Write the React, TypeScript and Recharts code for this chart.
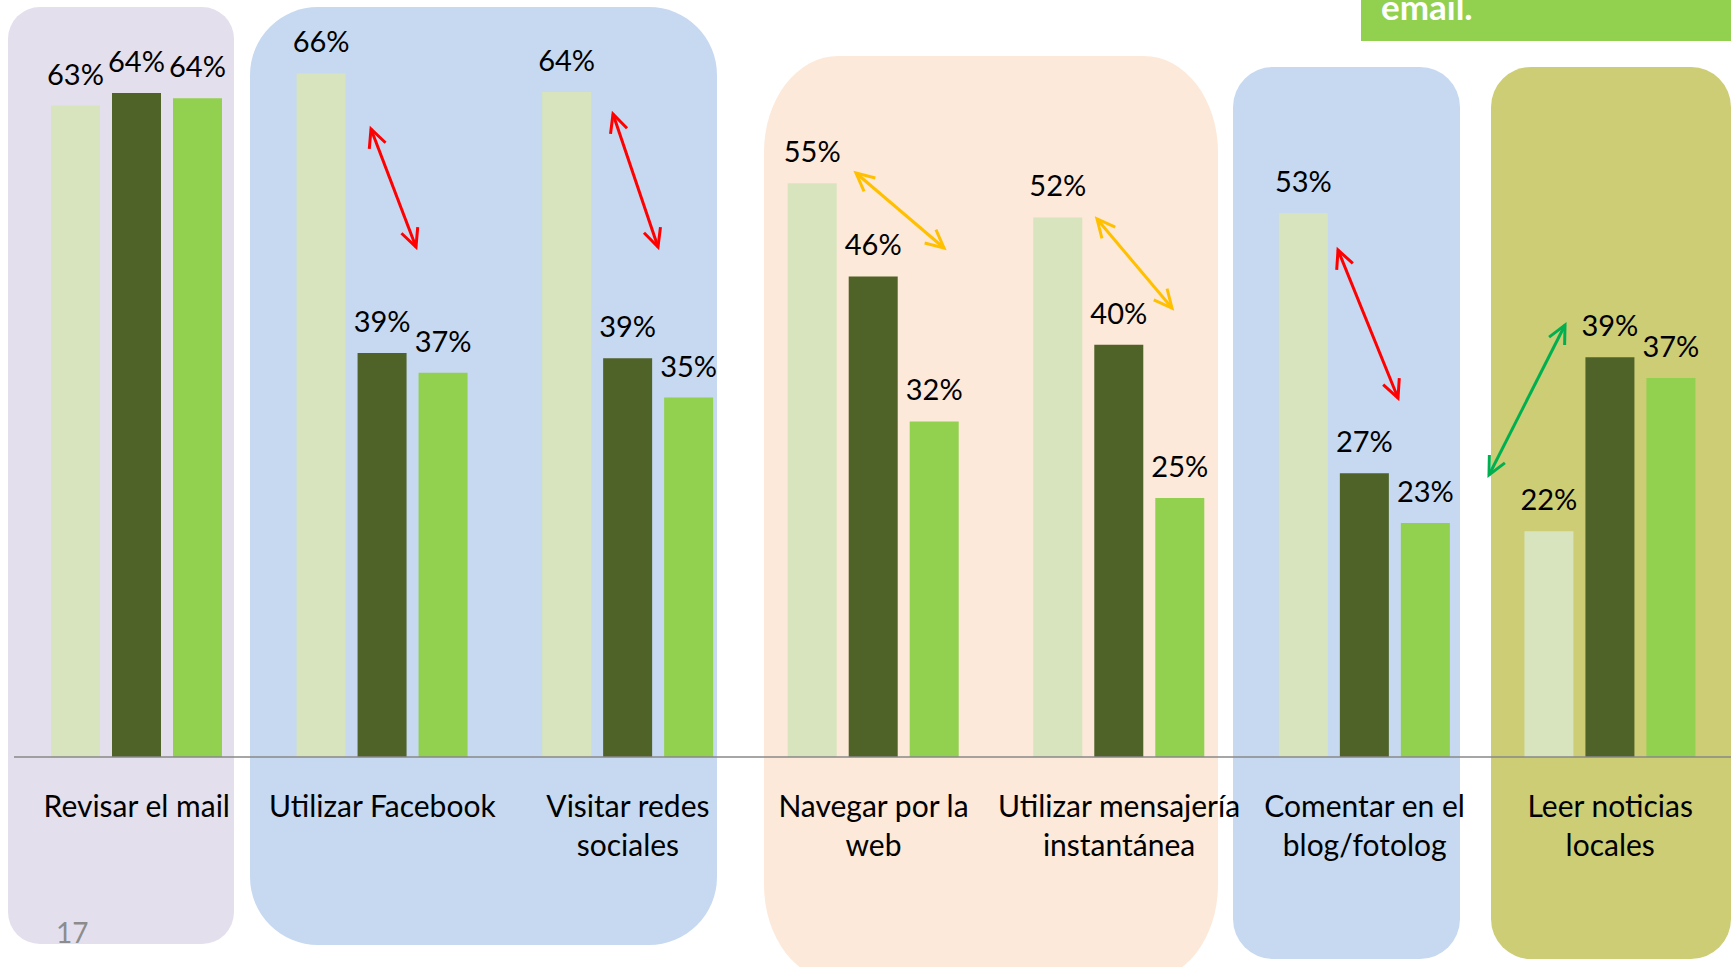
import { BarChart, Bar, XAxis, YAxis, LabelList } from 'recharts'

const categories = [
  'Revisar el mail',
  'Utilizar Facebook',
  'Visitar redes\nsociales',
  'Navegar por la\nweb',
  'Utilizar mensajería\ninstantánea',
  'Comentar en el\nblog/fotolog',
  'Leer noticias\nlocales',
]

const serie1 = [62.9, 66.0, 64.2, 55.4, 52.1, 52.5, 21.8]
const serie2 = [64.1, 39.0, 38.5, 46.4, 39.8, 27.4, 38.6]
const serie3 = [63.6, 37.1, 34.7, 32.4, 25.0, 22.6, 36.6]

const data = categories.map((name, i) => ({
  name,
  s1: serie1[i],
  s2: serie2[i],
  s3: serie3[i],
}))

const FONT = 'Lato, "Open Sans", sans-serif'

const panels = [
  { left: 8, top: 7, width: 226, height: 937, radius: '32px', color: '#E4DFEC' },
  { left: 250, top: 7, width: 467, height: 938, radius: '68px', color: '#C6D9F1' },
  { left: 764, top: 56, width: 454, height: 925, radius: '74px / 96px', color: '#FDE9D9' },
  { left: 1233, top: 67, width: 227, height: 892, radius: '40px', color: '#C6D9F1' },
  { left: 1491, top: 67, width: 240, height: 892, radius: '40px', color: '#CDCD76' },
]

// annotation arrows (double headed)
const arrows = [
  { x1: 371, y1: 129, x2: 416, y2: 247, color: '#FF0000' },
  { x1: 613, y1: 114, x2: 658, y2: 247, color: '#FF0000' },
  { x1: 856, y1: 173, x2: 944, y2: 248, color: '#FFC000' },
  { x1: 1097, y1: 219, x2: 1172, y2: 308, color: '#FFC000' },
  { x1: 1338, y1: 250, x2: 1398, y2: 398, color: '#FF0000' },
  { x1: 1565, y1: 325, x2: 1489, y2: 475, color: '#00B050' },
]

function head(x: number, y: number, ang: number) {
  const len = 20
  const spread = 0.45
  const a1 = ang + Math.PI - spread
  const a2 = ang + Math.PI + spread
  return `M${x + len * Math.cos(a1)},${y + len * Math.sin(a1)} L${x},${y} L${x + len * Math.cos(a2)},${y + len * Math.sin(a2)}`
}

function Arrow({ x1, y1, x2, y2, color }: { x1: number; y1: number; x2: number; y2: number; color: string }) {
  const ang = Math.atan2(y2 - y1, x2 - x1)
  return (
    <g stroke={color} strokeWidth={3} fill="none" strokeLinejoin="miter">
      <line x1={x1} y1={y1} x2={x2} y2={y2} />
      <path d={head(x2, y2, ang)} />
      <path d={head(x1, y1, ang + Math.PI)} />
    </g>
  )
}

function CategoryTick({ x, y, payload }: any) {
  const lines = String(payload.value).split('\n')
  return (
    <text x={x} y={y} textAnchor="middle" fontSize={30} fill="#000" fontFamily={FONT}>
      {lines.map((l, i) => (
        <tspan key={i} x={x} dy={i === 0 ? 60 : 39}>{l}</tspan>
      ))}
    </text>
  )
}

const fmt = (v: any) => `${Math.round(Number(v))}%`
const labelStyle = { fontSize: 29, fill: '#000', fontFamily: FONT }

export default function App() {
  return (
    <div style={{ position: 'absolute', left: 0, top: 0, width: 1731, height: 967, overflow: 'hidden', background: '#fff', fontFamily: FONT }}>
      {panels.map((p, i) => (
        <div
          key={i}
          style={{ position: 'absolute', left: p.left, top: p.top, width: p.width, height: p.height, borderRadius: p.radius, background: p.color }}
        />
      ))}
      <div style={{ position: 'absolute', left: 1361, top: 0, width: 370, height: 41, background: '#92D050' }} />

      <div style={{ position: 'absolute', left: 0, top: 0 }}>
        <BarChart width={1733} height={967} data={data} margin={{ top: 32, right: 0, bottom: 0, left: 14 }} barSize={49} barGap={12}>
          <XAxis
            dataKey="name"
            height={210}
            tickSize={0}
            tickMargin={0}
            tickLine={false}
            axisLine={{ stroke: '#898989', strokeWidth: 1.5 }}
            tick={<CategoryTick />}
            interval={0}
          />
          <YAxis hide domain={[0, 70]} />
          <Bar dataKey="s1" fill="#D7E4BD" isAnimationActive={false}>
            <LabelList dataKey="s1" position="top" offset={21} formatter={fmt} style={labelStyle} />
          </Bar>
          <Bar dataKey="s2" fill="#4F6228" isAnimationActive={false}>
            <LabelList dataKey="s2" position="top" offset={21} formatter={fmt} style={labelStyle} />
          </Bar>
          <Bar dataKey="s3" fill="#92D050" isAnimationActive={false}>
            <LabelList dataKey="s3" position="top" offset={21} formatter={fmt} style={labelStyle} />
          </Bar>
        </BarChart>
      </div>

      <svg width={1731} height={967} style={{ position: 'absolute', left: 0, top: 0, pointerEvents: 'none' }}>
        {arrows.map((a, i) => (
          <Arrow key={i} {...a} />
        ))}
        <text x={1381} y={20} fontSize={35} fontWeight={700} fill="#fff" fontFamily={FONT}>email.</text>
        <text x={56} y={943} fontSize={28} fill="#8C8C8C" fontFamily={FONT}>17</text>
      </svg>
    </div>
  )
}
